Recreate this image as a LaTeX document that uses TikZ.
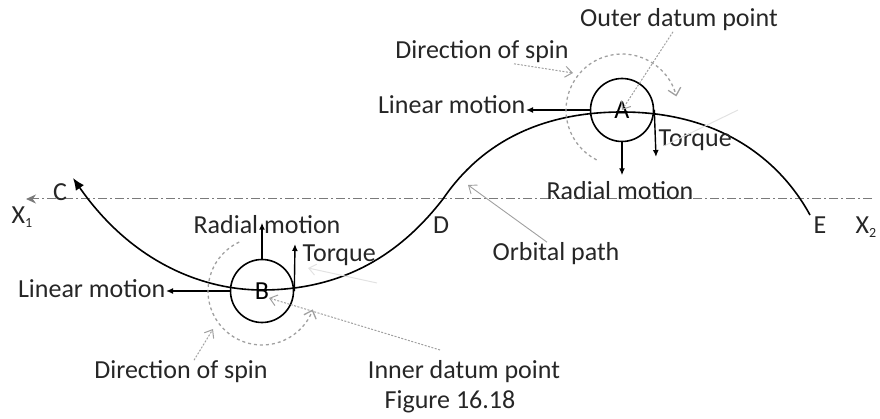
\documentclass[tikz,border=0pt]{standalone}
\usepackage{fontspec}
\setmainfont{Carlito}
\usetikzlibrary{arrows.meta}
\definecolor{axisgray}{HTML}{7A7A7A}
\definecolor{spingray}{HTML}{A0A0A0}
\definecolor{faintgray}{HTML}{E2E2E2}
\newcommand{\subidx}[1]{\raisebox{-0.35ex}{\fontsize{14}{14}\selectfont #1}}

\begin{document}
\begin{tikzpicture}[x=1pt,y=-1pt,line width=1.4pt,
  lbl/.style={inner sep=0pt, text=black!85, font=\fontsize{26}{30}\selectfont},
  wheel/.style={circle, draw, line width=1.6pt, minimum size=63pt, inner sep=0pt,
    font=\fontsize{26}{30}\selectfont},
  orbit/.style={line width=1.6pt},
  motion/.style={-{Latex[length=7pt,width=6pt]}, line width=1.4pt},
  axisline/.style={axisgray, line width=1pt, dash pattern=on 9pt off 3pt on 2pt off 3pt,
    -{Stealth[length=10pt,width=9pt]}},
  spin/.style={dashed, spingray, line width=1.3pt, -{Straight Barb[length=7pt,width=13pt]}},
  pointer/.style={spingray, line width=1pt, dash pattern=on 2pt off 1.5pt,
    -{Straight Barb[length=7pt,width=11pt]}},
  faint/.style={faintgray, line width=1pt, -{Straight Barb[length=7pt,width=11pt]}}
]
  \useasboundingbox (0,0) rectangle (880,419);

  % centre line X1 -- X2
  \coordinate (x1end) at (26,199);
  \coordinate (x2end) at (872,199);
  \draw[axisline] (x2end) -- (x1end);

  % orbital path from E back to C
  \coordinate (pe) at (810,215);
  \coordinate (pa) at (622,112);
  \coordinate (pd) at (443,199);
  \coordinate (pb) at (262,290);
  \coordinate (pc) at (73,178);
  \draw[orbit, -{Latex[length=12pt,width=10pt]}] (pe)
    .. controls (780,160) and (720,112) .. (pa)
    .. controls (560,112) and (490,130) .. (pd)
    .. controls (405,248) and (350,290) .. (pb)
    .. controls (200,290) and (130,260) .. (pc);

  % the two bodies
  \node[wheel] (A) at (622,110) {A};
  \node[wheel] (B) at (262,291) {B};

  % letters on the line
  \node[lbl] (lC) at (60,192) {C};
  \node[lbl] (lX1) at (22,217) {X\subidx{1}};
  \node[lbl] (lD) at (441,225) {D};
  \node[lbl] (lE) at (820,225) {E};
  \node[lbl] (lX2) at (866,227) {X\subidx{2}};

  % body A
  \node[lbl, anchor=east] (linA) at (526,105) {Linear motion};
  \node[lbl] (radA) at (620,191) {Radial motion};
  \node[lbl, anchor=west] (tqA) at (658,140) {Torque};
  \coordinate (tqAend) at (656,157);
  \draw[motion] (A.west) -- (A.west -| linA.east);
  \draw[motion] (A.south) -- ++(0,33);
  \draw[motion] (A.east) -- (tqAend);
  \draw[spin] ([shift={(117:56)}]A.center) arc[start angle=117, end angle=346, radius=56];

  % body B
  \node[lbl, anchor=east] (linB) at (166,289) {Linear motion};
  \node[lbl] (radB) at (267,225) {Radial motion};
  \node[lbl, anchor=west] (tqB) at (302,255) {Torque};
  \coordinate (tqBend) at (295,244);
  \draw[motion] (B.west) -- (B.west -| linB.east);
  \draw[motion] (B.north) -- ++(0,-36);
  \draw[motion] (B.east) -- (tqBend);
  \draw[spin] ([shift={(-115:54)}]B.center) arc[start angle=-115, end angle=-340, radius=54];

  % callouts
  \node[lbl] (dsA) at (482,52) {Direction of spin};
  \node[lbl] (odp) at (679,20) {Outer datum point};
  \node[lbl] (orb) at (556,254) {Orbital path};
  \node[lbl] (dsB) at (181,372) {Direction of spin};
  \node[lbl] (idp) at (464,372) {Inner datum point};
  \node[lbl] (fig) at (450,402) {Figure 16.18};

  \coordinate (dsAtip) at (573,73);
  \coordinate (orbtip) at (468,185);
  \coordinate (dsBtip) at (213,329);
  \coordinate (idpfrom) at (440,350);
  \coordinate (idptip) at (269,298);
  \draw[pointer] ([xshift=32pt]dsA.south) -- (dsAtip);
  \draw[pointer] ([xshift=-6pt]odp.south) -- (A.center);
  \draw[pointer, solid, line width=0.9pt] ([xshift=-9pt]orb.north) -- (orbtip);
  \draw[pointer] ([xshift=13pt]dsB.north) -- (dsBtip);
  \draw[pointer] (idpfrom) -- (idptip);

  % faint strokes
  \coordinate (fb0) at (377,283);
  \coordinate (fb1) at (308,268);
  \coordinate (fa0) at (738,110);
  \coordinate (fa1) at (664,146);
  \draw[faint] (fb0) -- (fb1);
  \draw[faint, -] (fa0) -- (fa1);
\end{tikzpicture}
\end{document}
